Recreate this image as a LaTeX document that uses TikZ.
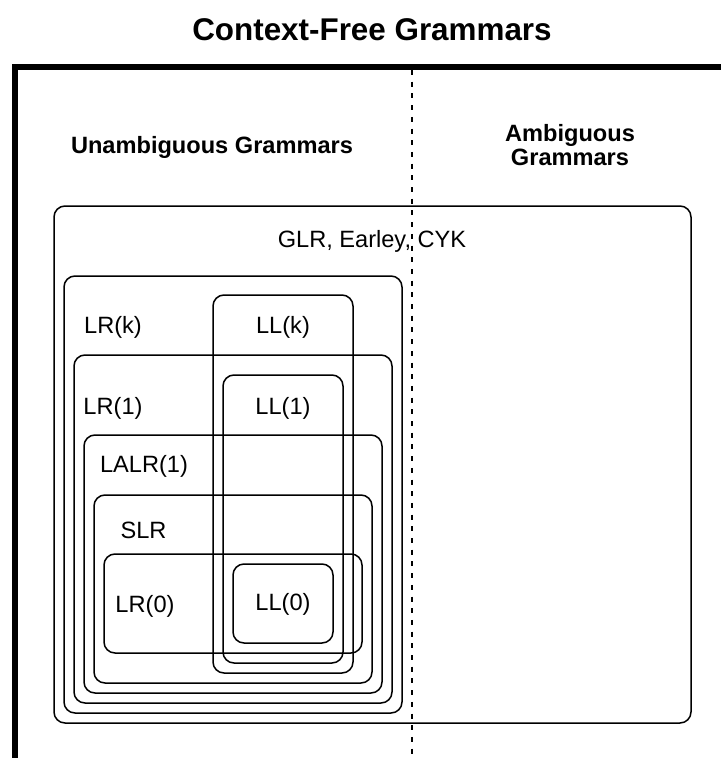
\documentclass[tikz,border=0pt]{standalone}
\usepackage{fontspec}
\setmainfont{Liberation Sans}
\begin{document}
\begin{tikzpicture}[x=1pt,y=-1pt,
  set/.style={draw, line width=1.5pt, rounded corners=11pt, inner sep=0pt, outer sep=0pt},
  lbl/.style={font=\fontsize{23.6}{26}\selectfont, inner sep=0pt},
  head/.style={font=\bfseries\fontsize{23.6}{24}\selectfont, align=center, inner sep=0pt},
  ttl/.style={font=\bfseries\fontsize{31.4}{34}\selectfont, inner sep=0pt},
  frame/.style={line width=6.3pt},
  divide/.style={line width=2pt, dash pattern=on 5pt off 6.7pt}]
\useasboundingbox (0,0) rectangle (721,758);

% title and the two columns
\node[ttl] (title) at (372,30) {Context-Free Grammars};
\coordinate (fr0) at (15,758);
\coordinate (fr1) at (15,67);
\coordinate (fr2) at (721,67);
\draw[frame] (fr0) -- (fr1) -- (fr2);
\coordinate (dv0) at (412,70);
\coordinate (dv1) at (412,758);
\draw[divide] (dv0) -- (dv1);
\node[head] (unamb) at (212,147) {Unambiguous Grammars};
\node[head] (amb) at (570,145) {Ambiguous\\Grammars};

% nested grammar classes
\node[set, minimum width=637pt, minimum height=517pt] (glr) at (372.5,464.5) {};
\node[set, minimum width=338pt, minimum height=437pt] (lrk) at (233,494.5) {};
\node[set, minimum width=140pt, minimum height=378pt] (llk) at (283,484) {};
\node[set, minimum width=318pt, minimum height=348pt] (lr1) at (233,529) {};
\node[set, minimum width=120pt, minimum height=288pt] (ll1) at (283,519) {};
\node[set, minimum width=298pt, minimum height=258pt] (lalr) at (233,564) {};
\node[set, minimum width=278pt, minimum height=188pt] (slr) at (233,589) {};
\node[set, minimum width=258pt, minimum height=99pt] (lr0) at (233,603.5) {};
\node[set, minimum width=100pt, minimum height=79pt] (ll0) at (283,603.5) {};

% class labels
\node[lbl] (tglr) at (372,241) {GLR, Earley, CYK};
\node[lbl] (tlrk) at (113,327) {LR(k)};
\node[lbl] (tllk) at (283,327) {LL(k)};
\node[lbl] (tlr1) at (113,408) {LR(1)};
\node[lbl] (tll1) at (283,408) {LL(1)};
\node[lbl] (tlalr) at (144,466) {LALR(1)};
\node[lbl] (tslr) at (143.5,530) {SLR};
\node[lbl] (tlr0) at (145,606) {LR(0)};
\node[lbl] (tll0) at (283,604) {LL(0)};
\end{tikzpicture}
\end{document}
